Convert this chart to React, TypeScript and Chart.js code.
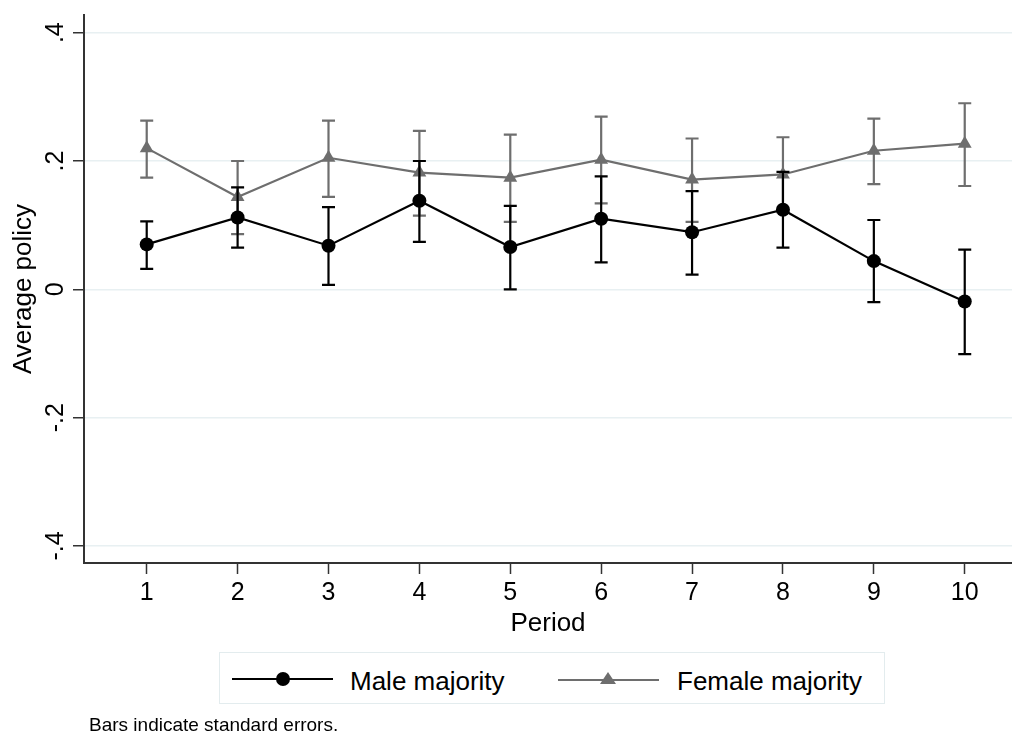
import React, { useEffect, useRef } from "react";
import { Chart, registerables } from "chart.js";

Chart.register(...registerables);

const periods = [1, 2, 3, 4, 5, 6, 7, 8, 9, 10];
const maleMean = [0.07, 0.112, 0.068, 0.138, 0.066, 0.11, 0.089, 0.124, 0.044, -0.019];
const maleLow = [0.032, 0.065, 0.007, 0.074, 0.0, 0.042, 0.023, 0.065, -0.02, -0.101];
const maleHigh = [0.106, 0.159, 0.128, 0.2, 0.13, 0.176, 0.153, 0.183, 0.108, 0.062];
const femaleMean = [0.22, 0.144, 0.205, 0.182, 0.174, 0.202, 0.171, 0.179, 0.216, 0.227];
const femaleLow = [0.174, 0.086, 0.144, 0.115, 0.105, 0.134, 0.105, 0.12, 0.164, 0.161];
const femaleHigh = [0.263, 0.2, 0.263, 0.247, 0.241, 0.269, 0.235, 0.237, 0.266, 0.29];
const yTickValues = [-0.4, -0.2, 0, 0.2, 0.4];
const yTickLabels = ["-.4", "-.2", "0", ".2", ".4"];
const seriesNames = ["Male majority", "Female majority"];
const xTitle = "Period";
const yTitle = "Average policy";
const note = "Bars indicate standard errors.";

const FONT = "'Liberation Sans', Arial, Helvetica, sans-serif";
const MALE_COLOR = "#000000";
const FEMALE_COLOR = "#6e6e6e";
const AXIS_COLOR = "#333333";
const GRID_COLOR = "#e8f0f2";

function drawBars(chart: any, lows: number[], highs: number[], color: string) {
  const ctx = chart.ctx;
  const xs = chart.scales.x;
  const ys = chart.scales.y;
  ctx.save();
  ctx.strokeStyle = color;
  ctx.lineWidth = 2.2;
  const cap = 6.5;
  for (let i = 0; i < periods.length; i++) {
    const x = xs.getPixelForValue(periods[i]);
    const y1 = ys.getPixelForValue(lows[i]);
    const y2 = ys.getPixelForValue(highs[i]);
    ctx.beginPath();
    ctx.moveTo(x, y1);
    ctx.lineTo(x, y2);
    ctx.moveTo(x - cap, y1);
    ctx.lineTo(x + cap, y1);
    ctx.moveTo(x - cap, y2);
    ctx.lineTo(x + cap, y2);
    ctx.stroke();
  }
  ctx.restore();
}

const errorBarPlugin = {
  id: "errorBars",
  afterDatasetDraw(chart: any, args: any) {
    if (args.index === 1) {
      drawBars(chart, femaleLow, femaleHigh, FEMALE_COLOR);
      drawBars(chart, maleLow, maleHigh, MALE_COLOR);
    }
  },
};

const yLabelPlugin = {
  id: "yRotatedLabels",
  afterDraw(chart: any) {
    const ctx = chart.ctx;
    const ys = chart.scales.y;
    ctx.save();
    ctx.fillStyle = "#000";
    ctx.font = `25px ${FONT}`;
    ctx.textAlign = "center";
    ctx.textBaseline = "alphabetic";
    for (let i = 0; i < yTickValues.length; i++) {
      const y = ys.getPixelForValue(yTickValues[i]);
      ctx.save();
      ctx.translate(63, y);
      ctx.rotate(-Math.PI / 2);
      ctx.fillText(yTickLabels[i], 0, 0);
      ctx.restore();
    }
    ctx.restore();
  },
};

export default function App() {
  const ref = useRef<HTMLCanvasElement | null>(null);

  useEffect(() => {
    if (!ref.current) return;
    const chart = new Chart(ref.current, {
      type: "line",
      data: {
        datasets: [
          {
            label: seriesNames[0],
            data: periods.map((p, i) => ({ x: p, y: maleMean[i] })),
            borderColor: MALE_COLOR,
            backgroundColor: MALE_COLOR,
            borderWidth: 2.2,
            pointStyle: "circle",
            pointRadius: 7,
            pointBorderWidth: 0,
            pointBackgroundColor: MALE_COLOR,
            tension: 0,
          },
          {
            label: seriesNames[1],
            data: periods.map((p, i) => ({ x: p, y: femaleMean[i] })),
            borderColor: FEMALE_COLOR,
            backgroundColor: FEMALE_COLOR,
            borderWidth: 2.2,
            pointStyle: "triangle",
            pointRadius: 8,
            pointBorderWidth: 0,
            pointBackgroundColor: FEMALE_COLOR,
            tension: 0,
          },
        ],
      },
      options: {
        responsive: false,
        animation: false,
        events: [],
        layout: { autoPadding: false, padding: { top: 15, right: 0, bottom: 94, left: 0 } },
        plugins: {
          legend: { display: false },
          tooltip: { enabled: false },
        },
        scales: {
          x: {
            type: "linear",
            min: 0.31,
            max: 10.52,
            afterFit: (s: any) => {
              s.height = 77;
            },
            ticks: {
              stepSize: 1,
              includeBounds: false,
              autoSkip: false,
              maxRotation: 0,
              minRotation: 0,
              padding: 4,
              color: "#000",
              font: { family: FONT, size: 25 },
            },
            grid: {
              display: true,
              drawOnChartArea: false,
              drawTicks: true,
              tickLength: 11,
              tickColor: AXIS_COLOR,
              tickWidth: 1.5,
            },
            border: { display: true, color: AXIS_COLOR, width: 2 },
            title: {
              display: true,
              text: xTitle,
              color: "#000",
              font: { family: FONT, size: 26 },
              padding: { top: 0, bottom: 1 },
            },
          },
          y: {
            type: "linear",
            min: -0.4265,
            max: 0.4275,
            afterFit: (s: any) => {
              s.width = 84;
            },
            ticks: {
              display: false,
              stepSize: 0.2,
              includeBounds: false,
            },
            grid: {
              display: true,
              drawOnChartArea: true,
              color: GRID_COLOR,
              lineWidth: 1.5,
              drawTicks: true,
              tickLength: 11,
              tickColor: AXIS_COLOR,
              tickWidth: 1.5,
            },
            border: { display: true, color: AXIS_COLOR, width: 2 },
            title: {
              display: true,
              text: yTitle,
              color: "#000",
              font: { family: FONT, size: 26 },
              padding: { top: 8, bottom: 0 },
            },
          },
        },
      },
      plugins: [errorBarPlugin, yLabelPlugin],
    } as any);
    return () => chart.destroy();
  }, []);

  const textStyle: React.CSSProperties = {
    position: "absolute",
    fontFamily: FONT,
    fontSize: 26,
    lineHeight: "26px",
    color: "#000",
    whiteSpace: "nowrap",
  };

  return (
    <div style={{ position: "absolute", left: 0, top: 0, width: 1012, height: 734, background: "#fff", overflow: "hidden" }}>
      <canvas ref={ref} width={1012} height={734} style={{ display: "block", position: "absolute", left: 0, top: 0 }} />
      <div
        style={{
          position: "absolute",
          left: 219,
          top: 652,
          width: 666,
          height: 52,
          border: "1.5px solid #e3ecee",
          boxSizing: "border-box",
          background: "#fff",
        }}
      />
      <div style={{ position: "absolute", left: 232, top: 678, width: 101, height: 2.2, background: MALE_COLOR }} />
      <div style={{ position: "absolute", left: 276, top: 672, width: 14, height: 14, borderRadius: "50%", background: MALE_COLOR }} />
      <div style={{ ...textStyle, left: 350, top: 668 }}>{seriesNames[0]}</div>
      <div style={{ position: "absolute", left: 558, top: 679, width: 101, height: 2.2, background: FEMALE_COLOR }} />
      <div
        style={{
          position: "absolute",
          left: 600,
          top: 672,
          width: 0,
          height: 0,
          borderLeft: "8px solid transparent",
          borderRight: "8px solid transparent",
          borderBottom: `12px solid ${FEMALE_COLOR}`,
        }}
      />
      <div style={{ ...textStyle, left: 677, top: 668 }}>{seriesNames[1]}</div>
      <div style={{ ...textStyle, left: 89, top: 715, fontSize: 19, lineHeight: "19px" }}>{note}</div>
    </div>
  );
}
